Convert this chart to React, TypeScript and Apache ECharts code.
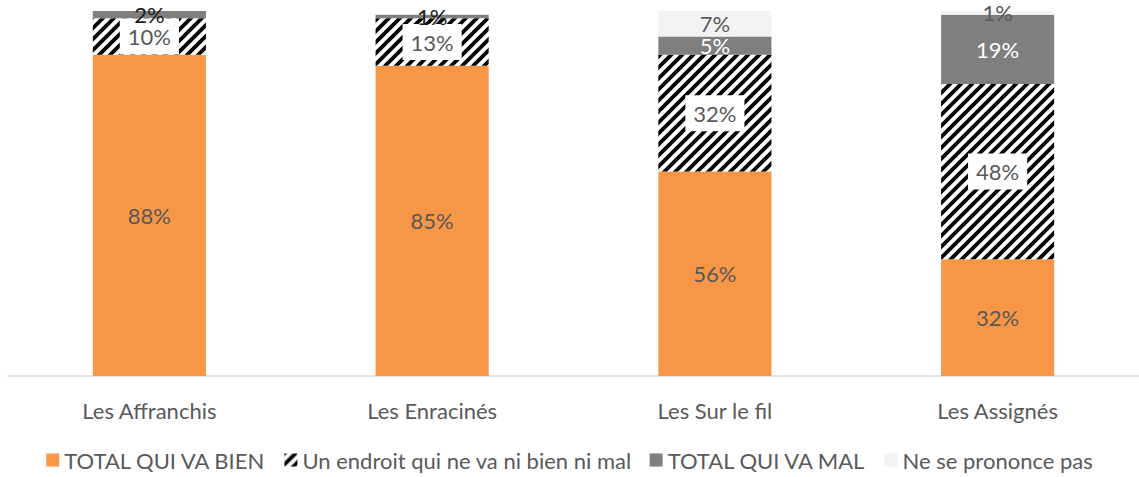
import React, { useEffect, useRef } from "react";
import * as echarts from "echarts";

const categories = ["Les Affranchis", "Les Enracinés", "Les Sur le fil", "Les Assignés"];
const seriesNames = [
  "TOTAL QUI VA BIEN",
  "Un endroit qui ne va ni bien ni mal",
  "TOTAL QUI VA MAL",
  "Ne se prononce pas",
];
const vaBien = [88, 85, 56, 32];
const niBienNiMal = [10, 13, 32, 48];
const vaMal = [2, 1, 5, 19];
const neSePrononcePas = [0, 0, 7, 1];

const FONT = "Lato";
const TEXT = "#595959";
const FS = 22;

function makeHatch(): HTMLCanvasElement {
  const n = 11;
  const c = document.createElement("canvas");
  c.width = n;
  c.height = n;
  const ctx = c.getContext("2d")!;
  ctx.fillStyle = "#ffffff";
  ctx.fillRect(0, 0, n, n);
  ctx.strokeStyle = "#000000";
  ctx.lineWidth = 3.8;
  ctx.lineCap = "square";
  ctx.beginPath();
  ctx.moveTo(-1, n + 1);
  ctx.lineTo(n + 1, -1);
  ctx.moveTo(-1 - n, n + 1);
  ctx.lineTo(1, -1);
  ctx.moveTo(n - 1, n + 1);
  ctx.lineTo(2 * n + 1, -1);
  ctx.stroke();
  return c;
}

export default function App() {
  const ref = useRef<HTMLDivElement>(null);
  useEffect(() => {
    if (!ref.current) return;
    const chart = echarts.init(ref.current, undefined, { renderer: "svg" });
    const hatch = makeHatch();
    const fmt = (p: any) => (p.value ? p.value + "%" : "");
    const baseLabel = {
      show: true,
      position: "inside",
      fontFamily: FONT,
      fontSize: FS,
      formatter: fmt,
    };
    chart.setOption({
      animation: false,
      textStyle: { fontFamily: FONT },
      grid: { left: 8, top: 11, width: 1135, height: 365, containLabel: false },
      xAxis: {
        type: "category",
        data: categories,
        axisLine: { show: true, lineStyle: { color: "#d9d9d9", width: 1.5 } },
        axisTick: { show: false },
        axisLabel: { color: TEXT, fontSize: FS, fontFamily: FONT, margin: 23 },
      },
      yAxis: {
        type: "value",
        min: 0,
        max: 100,
        show: false,
        splitLine: { show: false },
      },
      legend: {
        bottom: 1,
        left: "center",
        itemWidth: 13,
        itemHeight: 13,
        itemGap: 18,
        icon: "rect",
        textStyle: { color: TEXT, fontSize: FS, fontFamily: FONT },
        data: seriesNames,
      },
      series: [
        {
          name: seriesNames[0],
          type: "bar",
          stack: "t",
          barWidth: "40%",
          data: vaBien,
          itemStyle: { color: "#F79646" },
          label: { ...baseLabel, color: TEXT },
        },
        {
          name: seriesNames[1],
          type: "bar",
          stack: "t",
          data: niBienNiMal,
          itemStyle: { color: { image: hatch, repeat: "repeat" } },
          label: {
            ...baseLabel,
            color: TEXT,
            backgroundColor: "#ffffff",
            padding: [7, 8, 7, 8],
          },
        },
        {
          name: seriesNames[2],
          type: "bar",
          stack: "t",
          data: vaMal.map((v) => ({
            value: v,
            label: { color: v < 3 ? "#1a1a1a" : "#ffffff" },
          })),
          itemStyle: { color: "#7F7F7F" },
          label: { ...baseLabel },
        },
        {
          name: seriesNames[3],
          type: "bar",
          stack: "t",
          data: neSePrononcePas,
          itemStyle: { color: "#F2F2F2" },
          label: { ...baseLabel, color: TEXT },
        },
      ],
    });
    return () => chart.dispose();
  }, []);
  return (
    <div
      ref={ref}
      style={{ position: "absolute", left: 0, top: 0, width: 1139, height: 477 }}
    />
  );
}
